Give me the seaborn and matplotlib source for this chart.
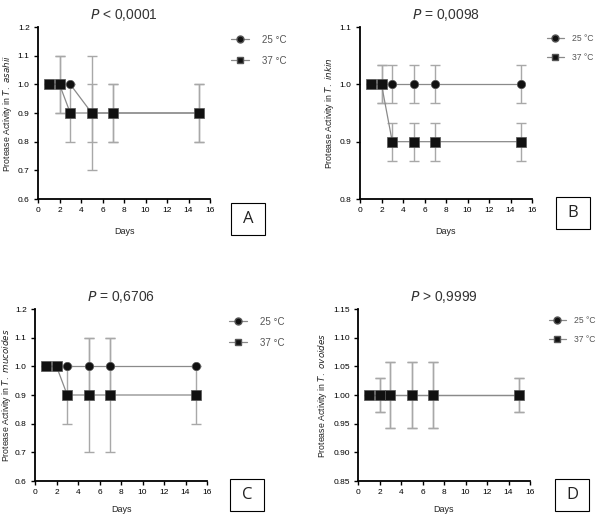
import matplotlib
matplotlib.use("Agg")
import matplotlib.pyplot as plt
from matplotlib.lines import Line2D
from matplotlib.patches import Rectangle
import seaborn as sns
import pandas as pd
import numpy as np

days = [1, 2, 3, 5, 7, 15]
temps = ["25 °C", "37 °C"]

# Panel A: T. asahii
a25 = [1.0, 1.0, 1.0, 0.9, 0.9, 0.9]
a25_err = [0.0, 0.1, 0.0, 0.1, 0.1, 0.1]
a37 = [1.0, 1.0, 0.9, 0.9, 0.9, 0.9]
a37_err = [0.0, 0.1, 0.1, 0.2, 0.1, 0.1]
# Panel B: T. inkin
b25 = [1.0, 1.0, 1.0, 1.0, 1.0, 1.0]
b25_err = [0.0, 0.0333, 0.0333, 0.0333, 0.0333, 0.0333]
b37 = [1.0, 1.0, 0.9, 0.9, 0.9, 0.9]
b37_err = [0.0, 0.0333, 0.0333, 0.0333, 0.0333, 0.0333]
# Panel C: T. mucoides
c25 = [1.0, 1.0, 1.0, 1.0, 1.0, 1.0]
c25_err = [0.0, 0.0, 0.0, 0.1, 0.1, 0.0]
c37 = [1.0, 1.0, 0.9, 0.9, 0.9, 0.9]
c37_err = [0.0, 0.0, 0.1, 0.2, 0.2, 0.1]
# Panel D: T. ovoides
d25 = [1.0, 1.0, 1.0, 1.0, 1.0, 1.0]
d25_err = [0.0, 0.029, 0.057, 0.057, 0.057, 0.029]
d37 = [1.0, 1.0, 1.0, 1.0, 1.0, 1.0]
d37_err = [0.0, 0.029, 0.057, 0.057, 0.057, 0.029]

titles = ["< 0,0001", "= 0,0098", "= 0,6706", "> 0,9999"]
species = ["T. asahii", "T. inkin", "T. mucoides", "T. ovoides"]
letters = ["A", "B", "C", "D"]
ylims = [(0.6, 1.2), (0.8, 1.1), (0.6, 1.2), (0.85, 1.15)]
ysteps = [0.1, 0.1, 0.1, 0.05]
yfmt = ["%.1f", "%.1f", "%.1f", "%.2f"]

panels = [(a25, a25_err, a37, a37_err), (b25, b25_err, b37, b37_err),
          (c25, c25_err, c37, c37_err), (d25, d25_err, d37, d37_err)]

sns.set_theme(style="ticks")
plt.rcParams['font.family'] = ['Liberation Sans', 'DejaVu Sans']

W, H = 600, 517
fig = plt.figure(figsize=(6.0, 5.17), dpi=100)

# axes positions in pixels: left, top
pos = [(38, 27), (360, 27), (35, 309), (358, 309)]
aw, ah = 172, 172
legpos = [(226, 38), (543, 38), (224, 320), (545, 320)]
legfs = [7, 6.2, 7, 6.2]
boxpos = [(231, 203), (556, 197), (230, 479), (555, 479)]
ylpad = [3, 3, 1, 3]
xlpad = [9, 9, 6, 6]
box_w, box_h = 34, 32

line_col = "#8a8a8a"
err_col = "#a8a8a8"

for i, (y25, e25, y37, e37) in enumerate(panels):
    l, t = pos[i]
    ax = fig.add_axes([l / W, 1 - (t + ah) / H, aw / W, ah / H])
    df = pd.DataFrame({
        "Days": days * 2,
        "val": y25 + y37,
        "err": e25 + e37,
        "temp": [temps[0]] * 6 + [temps[1]] * 6,
    })
    for temp, mk, ms in [(temps[0], "o", 36), (temps[1], "s", 44)]:
        sub = df[df.temp == temp]
        ax.errorbar(sub["Days"], sub["val"], yerr=sub["err"], fmt="none",
                    ecolor=err_col, elinewidth=1.0, capsize=3.5, capthick=1.0, zorder=2)
        sns.lineplot(data=sub, x="Days", y="val", ax=ax, color=line_col,
                     linewidth=0.9, zorder=3, legend=False)
        sns.scatterplot(data=sub, x="Days", y="val", ax=ax, marker=mk, s=ms,
                        color="#111111", edgecolor="#555555", linewidth=0.5,
                        zorder=4, legend=False)
    ax.set_xlim(0, 16)
    ax.set_ylim(*ylims[i])
    ax.set_xticks(np.arange(0, 17, 2))
    lo, hi = ylims[i]
    yt = np.arange(lo, hi + ysteps[i] / 2, ysteps[i])
    ax.set_yticks(yt)
    ax.set_yticklabels([yfmt[i] % v for v in yt])
    ax.tick_params(axis="both", labelsize=6, length=3, width=1.0,
                   colors="black", pad=3)
    for s in ["left", "bottom"]:
        ax.spines[s].set_linewidth(1.3)
        ax.spines[s].set_color("black")
    sns.despine(ax=ax)
    ax.set_xlabel("Days", fontsize=6.5, labelpad=xlpad[i], color="#222222")
    ax.set_ylabel("Protease Activity in $\\it{" + species[i].replace(" ", "\\ ") + "}$",
                  fontsize=6.3, labelpad=ylpad[i], color="#222222")
    ax.set_title("$\\it{P}$ " + titles[i], fontsize=10, color="#333333", pad=6)

    handles = [
        Line2D([], [], color=line_col, lw=0.9, marker="o", markersize=5,
               markerfacecolor="#111111", markeredgecolor="#555555"),
        Line2D([], [], color=line_col, lw=0.9, marker="s", markersize=5,
               markerfacecolor="#111111", markeredgecolor="#555555"),
    ]
    lx, ly = legpos[i]
    fig.legend(handles, temps, loc="upper left",
               bbox_to_anchor=(lx / W, 1 - (ly - 8) / H), frameon=False,
               fontsize=legfs[i], labelcolor="#555555", handlelength=1.9,
               handletextpad=1.0 if i % 2 else 1.3, labelspacing=1.1, borderpad=0)

    bx, by = boxpos[i]
    fig.patches.append(Rectangle((bx / W, 1 - (by + box_h) / H), box_w / W, box_h / H,
                                 transform=fig.transFigure, fill=False,
                                 edgecolor="black", linewidth=0.8))
    fig.text((bx + box_w / 2) / W, 1 - (by + box_h / 2) / H, letters[i],
             ha="center", va="center", fontsize=12, color="#222222",
             family=["Open Sans", "DejaVu Sans"])

fig.savefig("out.png", dpi=100)
